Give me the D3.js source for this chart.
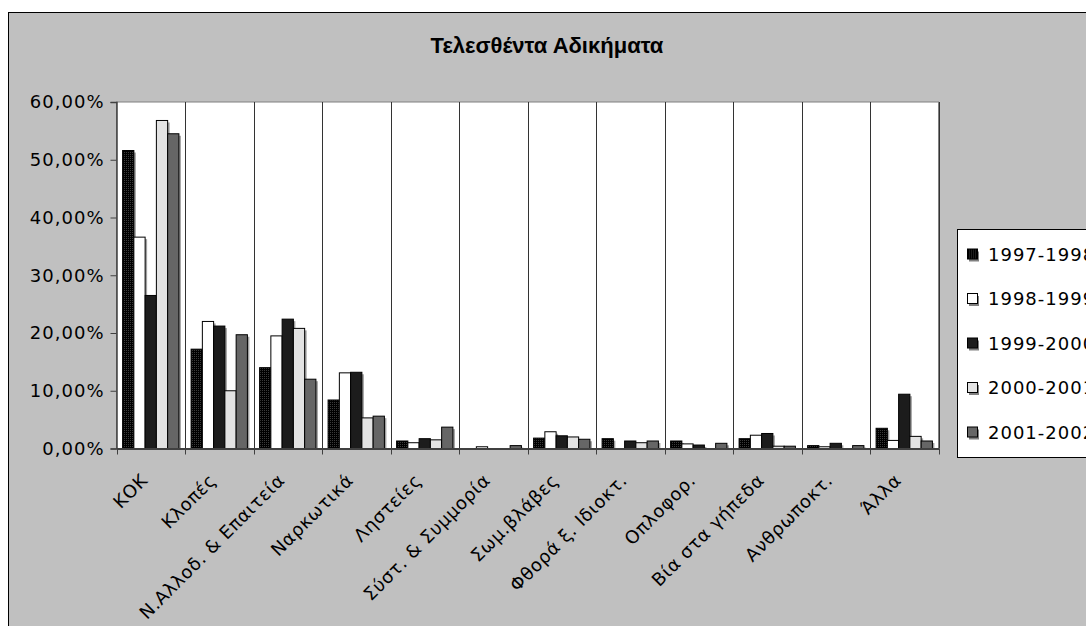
<!DOCTYPE html>
<html>
<head>
<meta charset="utf-8">
<script src="https://cdn.jsdelivr.net/npm/d3@7"></script>
<style>
  html, body { margin: 0; padding: 0; background: #ffffff; }
  svg { display: block; }
</style>
</head>
<body>
<svg id="chart" width="1086" height="626"></svg>
<script>
// ---------------- data ----------------
const title = "Τελεσθέντα Αδικήματα";
const categories = ["ΚΟΚ", "Κλοπές", "Ν.Αλλοδ. & Επαιτεία", "Ναρκωτικά", "Ληστείες",
  "Σύστ. & Συμμορία", "Σωμ.βλάβες", "Φθορά ξ. Ιδιοκτ.", "Οπλοφορ.", "Βία στα γήπεδα",
  "Ανθρωποκτ.", "Άλλα"];
const seriesNames = ["1997-1998", "1998-1999", "1999-2000", "2000-2001", "2001-2002"];
const s1997 = [0.516, 0.172, 0.140, 0.084, 0.013, 0.000, 0.018, 0.017, 0.013, 0.017, 0.005, 0.035];
const s1998 = [0.366, 0.220, 0.195, 0.131, 0.010, 0.003, 0.029, 0.000, 0.008, 0.023, 0.003, 0.014];
const s1999 = [0.265, 0.212, 0.224, 0.132, 0.017, 0.000, 0.022, 0.013, 0.006, 0.026, 0.009, 0.094];
const s2000 = [0.568, 0.100, 0.208, 0.053, 0.015, 0.000, 0.020, 0.010, 0.000, 0.004, 0.000, 0.021];
const s2001 = [0.545, 0.197, 0.120, 0.056, 0.037, 0.005, 0.016, 0.013, 0.009, 0.004, 0.005, 0.013];
const seriesValues = [s1997, s1998, s1999, s2000, s2001];
const yTicks = [0, 0.1, 0.2, 0.3, 0.4, 0.5, 0.6];

// ---------------- styles ----------------
const fills = ["url(#dither)", "#ffffff", "#1c1c1c", "#e3e3e3", "#666666"];
const plot = { x0: 116.5, x1: 938.5, y0: 102, y1: 448.5 };
const fontAxis = "'DejaVu Sans', Verdana, sans-serif";

const svg = d3.select("#chart");
const defs = svg.append("defs");
const pat = defs.append("pattern").attr("id", "dither")
  .attr("width", 2).attr("height", 2).attr("patternUnits", "userSpaceOnUse");
pat.append("rect").attr("width", 2).attr("height", 2).attr("fill", "#000");
pat.append("rect").attr("width", 1).attr("height", 1).attr("fill", "#3a3a3a");

// chart area background + border
svg.append("rect").attr("x", 8.5).attr("y", 12.5).attr("width", 1100).attr("height", 640)
  .attr("fill", "#c0c0c0").attr("stroke", "#000").attr("stroke-width", 1);

// title
svg.append("text").attr("x", 547).attr("y", 53)
  .attr("text-anchor", "middle")
  .attr("font-family", "'Liberation Sans', Arial, sans-serif")
  .attr("font-weight", "bold").attr("font-size", 22)
  .text(title);

// scales
const x0 = d3.scaleBand().domain(categories).range([plot.x0, plot.x1]).padding(0);
const pad = x0.bandwidth() * 0.089;
const x1 = d3.scaleBand().domain(seriesNames).range([pad, x0.bandwidth() - pad]).padding(0);
const y = d3.scaleLinear().domain([0, 0.6]).range([plot.y1, plot.y0]);

const locale = d3.formatLocale({ decimal: ",", thousands: ".", grouping: [3], currency: ["€", ""] });
const fmt = locale.format(".2%");

// plot area
svg.append("rect").attr("x", plot.x0).attr("y", plot.y0)
  .attr("width", plot.x1 - plot.x0).attr("height", plot.y1 - plot.y0)
  .attr("fill", "#ffffff").attr("stroke", "#808080").attr("stroke-width", 1);

// vertical gridlines at category boundaries
const bounds = categories.map(c => x0(c)).concat([x0(categories[categories.length - 1]) + x0.bandwidth()]);
svg.append("g").selectAll("line").data(bounds.slice(1)).join("line")
  .attr("x1", d => Math.round(d) + 0.5).attr("x2", d => Math.round(d) + 0.5)
  .attr("y1", plot.y0).attr("y2", plot.y1)
  .attr("stroke", "#333").attr("stroke-width", 1);

// bars
seriesNames.forEach((s, si) => {
  const data = categories.map((c, ci) => ({ c, v: seriesValues[si][ci] })).filter(d => d.v > 0);
  const g = svg.append("g");
  // shadow
  g.selectAll("rect.sh").data(data).join("rect").attr("class", "sh")
    .attr("x", d => x0(d.c) + x1(s) + 2)
    .attr("y", d => y(d.v) + 2)
    .attr("width", x1.bandwidth())
    .attr("height", d => Math.max(0, y(0) - y(d.v) - 2))
    .attr("fill", "#a0a0a0");
  g.selectAll("rect.bar").data(data).join("rect").attr("class", "bar")
    .attr("x", d => x0(d.c) + x1(s))
    .attr("y", d => y(d.v))
    .attr("width", x1.bandwidth())
    .attr("height", d => y(0) - y(d.v))
    .attr("fill", fills[si])
    .attr("stroke", "#000").attr("stroke-width", 1);
});

// y axis
const yAxis = d3.axisLeft(y).tickValues(yTicks).tickFormat(fmt).tickSize(6).tickPadding(6);
const gy = svg.append("g").attr("transform", `translate(${plot.x0},0)`).call(yAxis);
gy.select(".domain").attr("stroke", "#404040").attr("stroke-width", 1.5);
gy.selectAll(".tick line").attr("stroke", "#404040");
gy.selectAll(".tick text").attr("font-family", fontAxis).attr("font-size", 18)
  .attr("letter-spacing", "1px").attr("fill", "#000");

// x axis
const xAxis = d3.axisBottom(x0).tickSize(0).tickFormat("");
const gx = svg.append("g").attr("transform", `translate(0,${plot.y1})`).call(xAxis);
gx.select(".domain").attr("stroke", "#404040").attr("stroke-width", 2);
gx.selectAll(".tick").remove();
gx.selectAll("line.bt").data(bounds).join("line").attr("class", "bt")
  .attr("x1", d => Math.round(d) + 0.5).attr("x2", d => Math.round(d) + 0.5)
  .attr("y1", 0).attr("y2", 6).attr("stroke", "#404040");
gx.selectAll("text.lbl").data(categories).join("text").attr("class", "lbl")
  .attr("transform", c => `translate(${x0(c) + x0.bandwidth() / 2 - 2},${33}) rotate(-45)`)
  .attr("text-anchor", "end")
  .attr("font-family", fontAxis).attr("font-size", 18).attr("letter-spacing", "0.6px")
  .attr("fill", "#000")
  .text(c => c);

// legend
const lg = svg.append("g");
lg.append("rect").attr("x", 957.5).attr("y", 229.5).attr("width", 200).attr("height", 228)
  .attr("fill", "#ffffff").attr("stroke", "#000").attr("stroke-width", 1);
const items = lg.selectAll("g.item").data(seriesNames).join("g").attr("class", "item")
  .attr("transform", (d, i) => `translate(967,${254.5 + i * 44.5})`);
items.append("rect").attr("x", 2).attr("y", -3).attr("width", 10).attr("height", 10).attr("fill", "#808080");
items.append("rect").attr("x", 0.5).attr("y", -5.5).attr("width", 10).attr("height", 10)
  .attr("fill", (d, i) => fills[i]).attr("stroke", "#000");
items.append("text").attr("x", 21).attr("y", 0).attr("dy", "0.36em")
  .attr("font-family", fontAxis).attr("font-size", 18).attr("letter-spacing", "1px")
  .text(d => d);
</script>
</body>
</html>
